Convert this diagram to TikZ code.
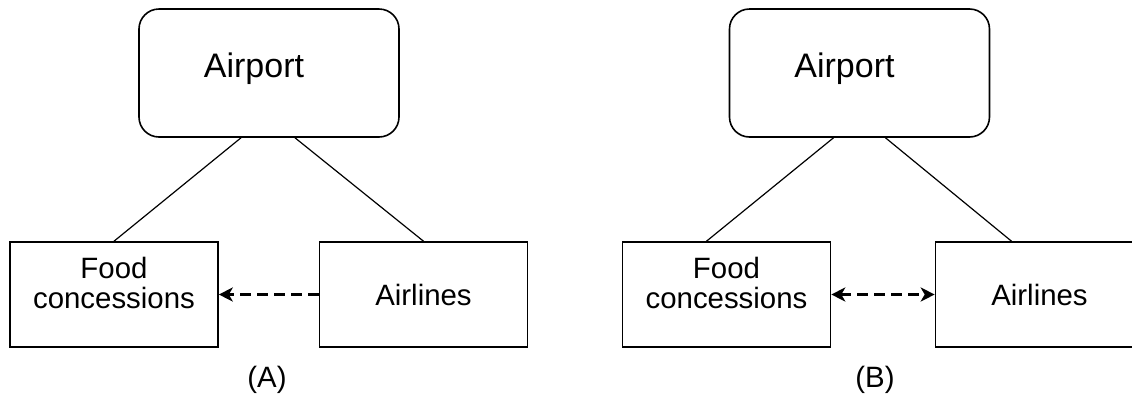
\documentclass[tikz,border=0pt]{standalone}
\usepackage{fontspec}
\setmainfont{Liberation Sans}
\usetikzlibrary{arrows.meta, positioning}

\begin{document}
\begin{tikzpicture}[x=0.5pt, y=-0.5pt,
  hub/.style={draw, rounded corners=10pt, line width=0.8pt, minimum width=130pt, minimum height=64pt},
  party/.style={draw, line width=0.8pt, minimum width=104pt, minimum height=52.5pt, align=center, font=\fontsize{14.7}{15}\selectfont},
  tie/.style={line width=0.6pt},
  flow/.style={dash pattern=on 5.5pt off 3pt, line width=1.6pt},
  pointer/.tip={Stealth[length=7pt, width=7pt, inset=2pt]},
  caption/.style={font=\fontsize{14.7}{15}\selectfont}]
  \clip (0,0) rectangle (1132,397);

  % (A)
  \node[hub, label={[xshift=-7.5pt, yshift=2pt, font=\fontsize{17}{20}\selectfont]center:Airport}] (airportA) at (269,73) {};
  \node[party, label={[yshift=6pt, align=center, font=\fontsize{14.7}{15}\selectfont]center:Food\\concessions}] (foodA) at (114,294.5) {};
  \node[party] (airlinesA) at (423.5,294.5) {Airlines};
  \node[caption] (capA) at (267,380) {(A)};

  \draw[tie] ([xshift=-14pt]airportA.south) -- (foodA.north);
  \draw[tie] ([xshift=13pt]airportA.south) -- (airlinesA.north);
  \draw[flow, -pointer] (airlinesA.west) -- (foodA.east);

  % (B)
  \node[hub, label={[xshift=-7.5pt, yshift=2pt, font=\fontsize{17}{20}\selectfont]center:Airport}] (airportB) at (859.5,73) {};
  \node[party, label={[yshift=6pt, align=center, font=\fontsize{14.7}{15}\selectfont]center:Food\\concessions}] (foodB) at (726.5,294.5) {};
  \node[party] (airlinesB) at (1039.5,294.5) {Airlines};
  \node[caption] (capB) at (875,380) {(B)};

  \draw[tie] ([xshift=-13pt]airportB.south) -- ([xshift=-10pt]foodB.north);
  \draw[tie] ([xshift=13pt]airportB.south) -- ([xshift=-14pt]airlinesB.north);
  \draw[flow, pointer-pointer] (foodB.east) -- (airlinesB.west);
\end{tikzpicture}
\end{document}
